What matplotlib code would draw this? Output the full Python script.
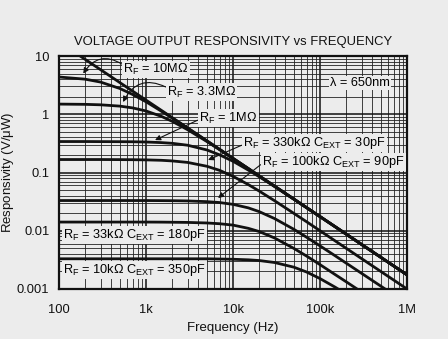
import matplotlib
matplotlib.use("Agg")
import matplotlib.pyplot as plt
from matplotlib.ticker import FixedLocator, FixedFormatter, LogLocator, NullFormatter

plt.rcParams['font.family'] = ['Liberation Sans', 'DejaVu Sans']
plt.rcParams['mathtext.default'] = 'regular'

# frequency points (Hz)
freq = [100, 200, 300, 500, 700, 1e3, 1.5e3, 2e3, 3e3, 5e3, 7e3, 1e4, 1.5e4, 2e4,
        3e4, 5e4, 7e4, 1e5, 1.5e5, 2e5, 3e5, 5e5, 7e5, 1e6]

# responsivity (V/uW)
gbw_line = [17.5, 8.75, 5.83, 3.5, 2.5, 1.75, 1.167, 0.875, 0.583, 0.35, 0.25, 0.175,
            0.1167, 0.0875, 0.0583, 0.035, 0.025, 0.0175, 0.01167, 0.00875, 0.00583,
            0.0035, 0.0025, 0.00175]
rf_10m = [4.36, 4.0, 3.57, 2.77, 2.19, 1.64, 1.13, 0.861, 0.58, 0.35, 0.25, 0.175,
          0.1167, 0.0875, 0.0583, 0.035, 0.025, 0.0175, 0.01167, 0.00875, 0.00583,
          0.0035, 0.0025, 0.00175]
rf_3m3 = [1.494, 1.479, 1.453, 1.379, 1.286, 1.139, 0.921, 0.756, 0.544, 0.341, 0.247,
          0.174, 0.1165, 0.0874, 0.0583, 0.035, 0.025, 0.0175, 0.01167, 0.00875,
          0.00583, 0.0035, 0.0025, 0.00175]
rf_1m = [0.34, 0.34, 0.339, 0.338, 0.337, 0.334, 0.326, 0.317, 0.294, 0.244, 0.201,
         0.156, 0.110, 0.0847, 0.0575, 0.0348, 0.0249, 0.0175, 0.01167, 0.00875,
         0.00583, 0.0035, 0.0025, 0.00175]
rf_330k = [0.167, 0.167, 0.167, 0.1664, 0.1659, 0.1647, 0.162, 0.158, 0.149, 0.128,
           0.109, 0.0859, 0.062, 0.048, 0.0328, 0.0199, 0.0143, 0.01, 0.00667, 0.005,
           0.00333, 0.002, 0.00143, 0.001]
rf_100k = [0.033, 0.033, 0.033, 0.033, 0.033, 0.033, 0.0329, 0.0328, 0.0325, 0.0316,
           0.0305, 0.0284, 0.0247, 0.0213, 0.0162, 0.0106, 0.00775, 0.0055, 0.0037,
           0.00278, 0.00186, 0.00112, 0.0008, 0.00056]
rf_33k = [0.0141, 0.0141, 0.0141, 0.0141, 0.0141, 0.0141, 0.01406, 0.014, 0.0139,
          0.0136, 0.0132, 0.0125, 0.011, 0.00969, 0.00752, 0.00498, 0.00368, 0.00262,
          0.00176, 0.00133, 0.00089, 0.00053, 0.00038, 0.00027]
rf_10k = [0.0033, 0.0033, 0.0033, 0.0033, 0.0033, 0.0033, 0.0033, 0.0033, 0.0033,
          0.0033, 0.00327, 0.00324, 0.00317, 0.00308, 0.00285, 0.00237, 0.00196,
          0.00151, 0.00107, 0.00082, 0.00056, 0.00034, 0.00024, 0.00017]

xticks = [1e2, 1e3, 1e4, 1e5, 1e6]
xticklabels = ["100", "1k", "10k", "100k", "1M"]
yticks = [1e-3, 1e-2, 1e-1, 1, 10]
yticklabels = ["0.001", "0.01", "0.1", "1", "10"]

bg = "#ececec"
fig = plt.figure(figsize=(4.48, 3.39), dpi=100, facecolor=bg)
ax = fig.add_axes([0.1317, 0.1475, 0.7768, 0.6873], facecolor=bg)
ax.set_xscale("log")
ax.set_yscale("log")
ax.set_xlim(100, 1e6)
ax.set_ylim(1e-3, 10)

ax.xaxis.set_major_locator(FixedLocator(xticks))
ax.xaxis.set_major_formatter(FixedFormatter(xticklabels))
ax.yaxis.set_major_locator(FixedLocator(yticks))
ax.yaxis.set_major_formatter(FixedFormatter(yticklabels))
for axis in (ax.xaxis, ax.yaxis):
    axis.set_minor_locator(LogLocator(base=10, subs=range(2, 10)))
    axis.set_minor_formatter(NullFormatter())
ax.tick_params(which="both", length=0, labelsize=9.3, colors="#111")
ax.tick_params(axis="x", pad=11)
ax.tick_params(axis="y", pad=7)

ax.grid(which="major", color="#111", lw=1.1)
ax.grid(which="minor", color="#222", lw=0.6)
for s in ax.spines.values():
    s.set_linewidth(1.6)
    s.set_color("#111")

lw = 2.0
ax.plot(freq, gbw_line, color="#111", lw=lw)
for series in (rf_10m, rf_3m3, rf_1m, rf_330k, rf_100k, rf_33k, rf_10k):
    ax.plot(freq, series, color="#111", lw=lw, solid_capstyle="butt")

box = dict(boxstyle="square,pad=0.1", fc=bg, ec="none")
arrow = dict(arrowstyle="-|>", color="#111", lw=0.8, mutation_scale=8, shrinkA=0, shrinkB=0)
fs = 9.2

ax.annotate("$R_F$ = 10MΩ", xy=(190, 5.0), xytext=(545, 5.9), fontsize=fs,
            ha="left", va="center", bbox=box,
            arrowprops=dict(arrow, connectionstyle="arc3,rad=0.5", relpos=(0, 0.8)))
ax.annotate("$R_F$ = 3.3MΩ", xy=(545, 1.62), xytext=(1740, 2.4), fontsize=fs,
            ha="left", va="center", bbox=box,
            arrowprops=dict(arrow, connectionstyle="arc3,rad=0.5", relpos=(0, 0.8)))
ax.annotate("$R_F$ = 1MΩ", xy=(1270, 0.36), xytext=(4060, 0.86), fontsize=fs,
            ha="left", va="center", bbox=box,
            arrowprops=dict(arrow, relpos=(0, 0.4)))
ax.annotate("$R_F$ = 330kΩ $C_{EXT}$ = 30pF", xy=(5170, 0.164), xytext=(13000, 0.32),
            fontsize=fs, ha="left", va="center", bbox=box,
            arrowprops=dict(arrow, relpos=(0, 0.4)))
ax.annotate("$R_F$ = 100kΩ $C_{EXT}$ = 90pF", xy=(6730, 0.0365), xytext=(21500, 0.151),
            fontsize=fs, ha="left", va="center", bbox=box,
            arrowprops=dict(arrow, relpos=(0, 0.4)))
ax.text(130000, 3.44, "λ = 650nm", fontsize=fs, ha="left", va="center", bbox=box)
ax.text(111, 0.00845, "$R_F$ = 33kΩ $C_{EXT}$ = 180pF", fontsize=fs,
        ha="left", va="center", bbox=box)
ax.text(111, 0.00212, "$R_F$ = 10kΩ $C_{EXT}$ = 350pF", fontsize=fs,
        ha="left", va="center", bbox=box)

ax.set_title("VOLTAGE OUTPUT RESPONSIVITY vs FREQUENCY", fontsize=9.4, pad=8, color="#111")
ax.set_xlabel("Frequency (Hz)", fontsize=9.5, color="#111")
ax.set_ylabel("Responsivity (V/$\\mu$W)", fontsize=9.5, color="#111")
ax.xaxis.set_label_coords(0.5, -0.14)
ax.yaxis.set_label_coords(-0.125, 0.5)

fig.savefig("out.png", dpi=100, facecolor=bg)
